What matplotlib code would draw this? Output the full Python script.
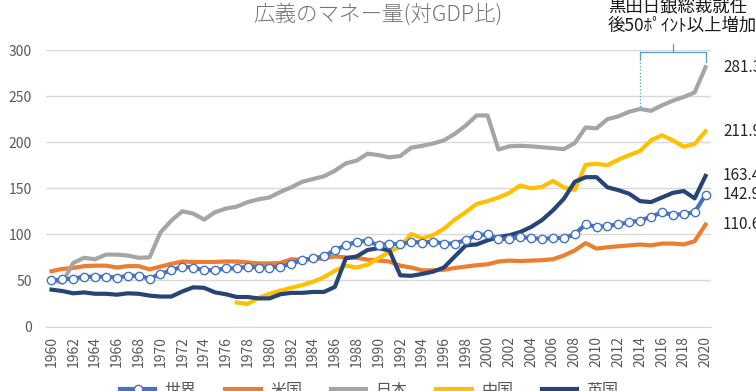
"""
広義のマネー量(対GDP比) - 世界・米国・日本・中国・英国
"""

import numpy as np
import matplotlib
matplotlib.use('Agg')
import matplotlib.pyplot as plt

plt.rcParams['font.family'] = ['Noto Sans CJK JP', 'DejaVu Sans']

# データ (1960-2020)
years = list(range(1960, 2021))

world = [50, 51, 52, 54, 54, 54, 53, 55, 55, 52,
         57, 61, 65, 64, 61, 61, 63, 63, 65, 64,
         64, 65, 68, 72, 74, 76, 83, 88, 92, 93,
         88, 90, 89, 92, 91, 92, 90, 90, 94, 99,
         100, 95, 95, 97, 96, 95, 96, 96, 100, 111,
         108, 109, 111, 113, 115, 119, 124, 121, 122, 124,
         142.9]

us = [60, 62.5, 63.5, 65.5, 66, 66, 64, 65.5, 65.5, 62,
      65, 68, 70.5, 70, 70, 70, 70.5, 70.5, 69.5, 68.5,
      68.5, 69, 73, 72.5, 73, 74, 76, 75, 74.5, 72.5,
      71.5, 70.5, 66, 64, 61, 61, 61.5, 63.5, 65, 66.5,
      67.5, 70.5, 71.5, 71, 71.5, 72, 73, 77, 82.5, 90.5,
      84.5, 86, 87, 88, 89, 88, 90, 90, 89, 92.5,
      110.6]

japan = [50.5, 47.5, 69, 74.5, 73, 78, 78, 77, 74.5, 75,
         102, 115, 125, 122.5, 116, 124, 128, 130, 135, 138,
         140, 146, 151, 157, 160, 163, 169, 177, 180, 187.5,
         186, 183.5, 185, 194, 196, 198.5, 202, 209, 218, 229,
         229, 192, 195.5, 196, 195.5, 194.5, 193.5, 192.5, 199, 216,
         215, 225, 228, 233, 236, 234, 240, 245, 249, 254,
         281.3]

china = [None] * 17 + [
    26, 24.5, 31,
    35.5, 39, 42, 45, 48.5, 53.5, 60.5, 66, 64, 67,
    74, 81, 86.5, 100.5, 95.5, 99, 106, 116, 124, 133,
    136, 140, 145, 153, 150, 151.5, 158, 151, 148, 175.5,
    176.5, 175, 181, 186, 190.5, 202, 207.5, 202, 195, 198,
    211.9]

uk = [40, 38.5, 36, 37, 35.5, 35.5, 34.5, 36, 35.5, 33.5,
      32.5, 32.5, 38, 42.5, 42, 37, 35, 32, 32, 30.5,
      30.5, 35, 36.5, 36.5, 37.5, 37.5, 43, 74, 76, 83,
      85, 82.5, 55.5, 55, 57, 59.5, 64, 76, 88, 89,
      93.5, 97, 99, 102.5, 108, 115.5, 126, 138.5, 157, 162,
      162, 151, 148, 144, 136, 135, 140, 145, 147, 139,
      163.4]

series = [
    ('世界', world, '#4472C4'),
    ('米国', us, '#ED7D31'),
    ('日本', japan, '#A5A5A5'),
    ('中国', china, '#FFC000'),
    ('英国', uk, '#264478'),
]

fig = plt.figure(figsize=(7.56, 3.91), dpi=100)
ax = fig.add_axes([46 / 756, 1 - 326.5 / 391, 665 / 756, 276.5 / 391])

x = np.arange(len(years))
for name, vals, color in series:
    v = np.array([np.nan if d is None else d for d in vals], dtype=float)
    if name == '世界':
        ax.plot(x, v, color=color, lw=3, marker='o', markersize=6,
                markerfacecolor='white', markeredgecolor=color,
                markeredgewidth=1.0, label=name, zorder=3)
    else:
        ax.plot(x, v, color=color, lw=3, label=name, zorder=2)
    # 右端のデータラベル
    ax.text(x[-1] + 1.6, v[-1], f'{v[-1]:.1f}', fontsize=11,
            color='#262626', va='center', ha='left', clip_on=False)

ax.set_xlim(-0.5, len(years) - 0.5)
ax.set_ylim(0, 300)
ax.set_yticks(np.arange(0, 301, 50))
ax.set_xticks(x[::2])
ax.set_xticklabels([str(y) for y in years[::2]], rotation=90)
ax.tick_params(axis='both', length=0, labelsize=10, labelcolor='#595959')
ax.tick_params(axis='y', pad=10)
ax.tick_params(axis='x', pad=7)
ax.grid(axis='y', color='#D9D9D9', lw=1)
ax.set_axisbelow(True)
for s in ['top', 'right', 'left']:
    ax.spines[s].set_visible(False)
ax.spines['bottom'].set_color('#D9D9D9')

# タイトル
fig.text(0.5, 1 - 14 / 391, '広義のマネー量(対GDP比)', ha='center', va='center',
         fontsize=15.5, color='#757575', fontweight='light')

# 黒田総裁就任以降のブラケット
i14 = years.index(2014)
i20 = years.index(2020)
bc = '#5B9BD5'
ax.plot([i14, i20], [298, 298], color=bc, lw=0.9, clip_on=False)
ax.plot([i20, i20], [298, 287], color=bc, lw=0.9, clip_on=False)
ax.plot([i14, i14], [298, 290], color=bc, lw=0.9, clip_on=False)
ax.plot([i14, i14], [290, japan[i14]], color=bc, lw=0.9, ls=':', clip_on=False)
ax.plot([(i14 + i20) / 2] * 2, [298, 307], color=bc, lw=0.9, clip_on=False)

fig.text(608 / 756, 1 - 16 / 391, '黒田日銀総裁就任\n後50ﾎﾟｲﾝﾄ以上増加', ha='left',
         va='center', fontsize=12.5, color='#1a1a1a', linespacing=1.1)

# 凡例 (下端で切れる)
fig.legend(loc='center left', bbox_to_anchor=(112 / 756, 1 - 390 / 391), ncol=5,
           frameon=False, fontsize=11.5, handlelength=2.2, handletextpad=0.6,
           columnspacing=1.8, borderpad=0, labelcolor='#595959')

fig.savefig('out.png', dpi=100)
